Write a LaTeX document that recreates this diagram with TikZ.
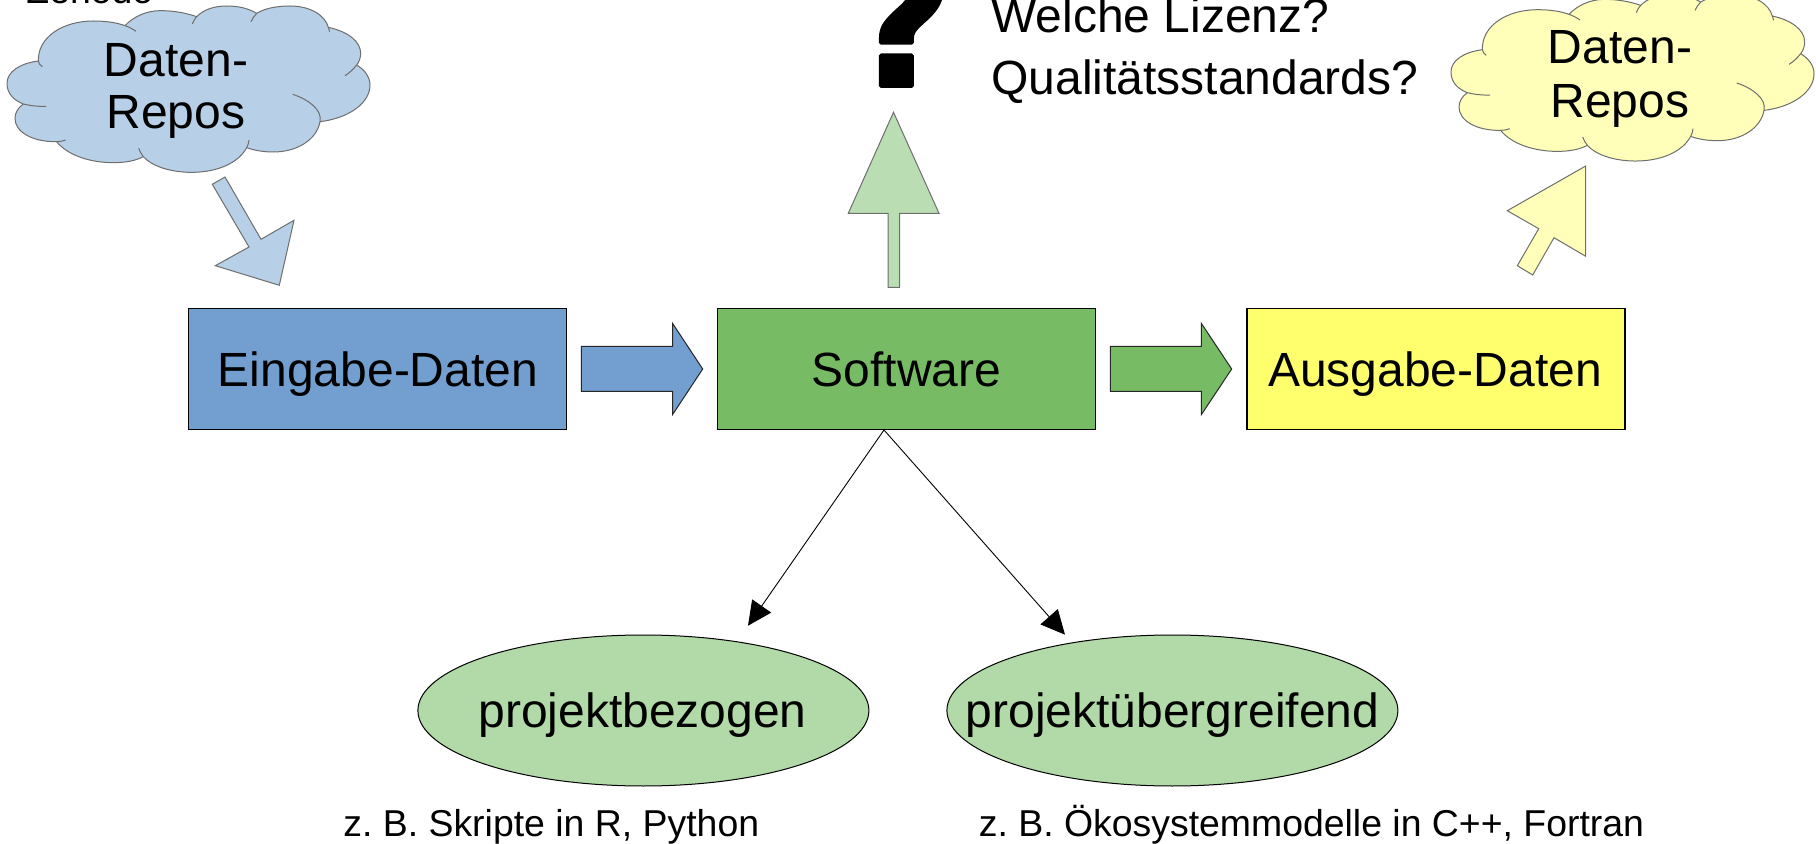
\documentclass[tikz,border=0pt]{standalone}
\usepackage{fontspec}
\setmainfont{Liberation Sans}
\newfontfamily\qfont{DejaVu Sans}[BoldFeatures={FakeBold=2.2}]
\usetikzlibrary{arrows.meta,shapes.geometric}
\definecolor{boxblue}{HTML}{729FCF}
\definecolor{boxgreen}{HTML}{77BC65}
\definecolor{boxyellow}{HTML}{FFFF6D}
\definecolor{cloudblue}{HTML}{B7CFE7}
\definecolor{cloudyellow}{HTML}{FFFFB9}
\definecolor{palegreen}{HTML}{BBDDB3}
\definecolor{ellgreen}{HTML}{B2D9A8}
\definecolor{softedge}{HTML}{6E6E6E}
\tikzset{
  bigtext/.style={font=\fontsize{24pt}{26.2pt}\selectfont},
  smalltext/.style={font=\fontsize{18.7pt}{22pt}\selectfont\frenchspacing,inner sep=0pt},
  labeltext/.style={bigtext,inner sep=0pt,anchor=base},
  databox/.style={draw=black,line width=0.7pt},
  blockarrow/.style={draw=black!85,line width=0.5pt},
  softshape/.style={draw=softedge,line width=0.5pt},
  thinarrow/.style={draw=black,line width=0.45pt,-{Triangle[length=12pt,width=11.5pt]}},
  oval/.style={draw=black,line width=0.5pt,fill=ellgreen,ellipse,inner sep=0pt,minimum width=225.5pt,minimum height=75.5pt}
}
\newcommand{\cloudoutline}[2]{%
\begin{scope}[shift={(#1)},x=0.1666667pt,y=-0.1666667pt]
\path[softshape,fill=#2,line join=round]
 (70,312) .. controls (40,300) and (21,280) .. (21,250) .. controls (21,215) and (60,190) .. (115,183)
 .. controls (113,110) and (190,63) .. (280,63) .. controls (320,63) and (350,68) .. (375,77)
 .. controls (400,50) and (440,32) .. (480,32) .. controls (520,32) and (555,38) .. (590,50)
 .. controls (610,30) and (640,18) .. (680,18) .. controls (715,18) and (745,25) .. (770,40)
 .. controls (795,25) and (830,18) .. (870,18) .. controls (930,18) and (975,45) .. (985,82)
 .. controls (1045,95) and (1082,125) .. (1082,160) .. controls (1082,172) and (1078,185) .. (1070,195)
 .. controls (1095,210) and (1110,232) .. (1110,255) .. controls (1110,310) and (1045,355) .. (960,365)
 .. controls (950,420) and (890,456) .. (820,456) .. controls (790,456) and (762,451) .. (740,443)
 .. controls (715,490) and (650,517) .. (575,517) .. controls (510,517) and (455,498) .. (430,470)
 .. controls (405,483) and (375,488) .. (340,488) .. controls (265,488) and (200,463) .. (170,425)
 .. controls (95,426) and (45,395) .. (45,355) .. controls (45,338) and (55,322) .. (70,312) -- cycle;
\draw[softshape] (70,312) .. controls (90,317) and (115,320) .. (138,319);
\draw[softshape] (115,183) .. controls (116,190) and (120,196) .. (127,200);
\draw[softshape] (375,77) .. controls (387,81) and (398,87) .. (408,94);
\draw[softshape] (590,50) .. controls (584,56) and (580,64) .. (577,72);
\draw[softshape] (770,40) .. controls (763,47) and (757,56) .. (753,65);
\draw[softshape] (985,82) .. controls (987,86) and (988,90) .. (989,95);
\draw[softshape] (1070,195) .. controls (1060,208) and (1048,219) .. (1035,227);
\draw[softshape] (960,365) .. controls (968,330) and (925,298) .. (878,283);
\draw[softshape] (740,443) .. controls (744,436) and (746,428) .. (747,420);
\draw[softshape] (430,470) .. controls (424,462) and (419,454) .. (416,445);
\draw[softshape] (170,425) .. controls (180,425) and (190,423) .. (197,420);
\end{scope}}
\begin{document}
\begin{tikzpicture}[x=0.5pt,y=-0.5pt]
\clip (0,0) rectangle (1816,844);
% boxes
\path[databox,fill=boxblue] (188.4,308.3) rectangle (566.5,429.3);
\path[databox,fill=boxgreen] (717.3,308.3) rectangle (1095.5,429.3);
\path[databox,fill=boxyellow] (1246.9,308.3) rectangle (1625,429.3);
\node[labeltext] (eingabe) at (378,387) {Eingabe-Daten};
\node[labeltext] (software) at (906.5,387) {Software};
\node[labeltext] (ausgabe) at (1435,387) {Ausgabe-Daten};
% block arrows
\path[blockarrow,fill=boxblue] (581.4,346.3) -- (672.5,346.3) -- (672.5,323.3) -- (702.7,369) -- (672.5,414.7) -- (672.5,391.3) -- (581.4,391.3) -- cycle;
\path[blockarrow,fill=boxgreen] (1110.3,346.3) -- (1201.3,346.3) -- (1201.3,323.3) -- (1231.7,369) -- (1201.3,414.7) -- (1201.3,391.3) -- (1110.3,391.3) -- cycle;
% clouds
\cloudoutline{0,0}{cloudblue}
\cloudoutline{1444,-11.3}{cloudyellow}
\node[labeltext] (datenA) at (176,76.5) {Daten-};
\node[labeltext] (reposA) at (176,129) {Repos};
\node[labeltext] (datenB) at (1620,64) {Daten-};
\node[labeltext] (reposB) at (1620,117.5) {Repos};
\node[smalltext,anchor=base west] (zenodo) at (26,4) {Zenodo};
% pale arrows
\path[softshape,fill=cloudblue] (212.3,184.3) -- (225,177) -- (261,239.3) -- (294,220.3) -- (279.3,285.3) -- (215.3,265.7) -- (249,247) -- cycle;
\path[softshape,fill=palegreen] (888,287.3) -- (888,213.3) -- (848.3,213.3) -- (893.5,112.3) -- (939,213.3) -- (899.6,213.3) -- (899.6,287.3) -- cycle;
\path[softshape,fill=cloudyellow] (1517.3,265.7) -- (1538.7,228.7) -- (1507.3,210.7) -- (1585.7,166) -- (1585.7,256.3) -- (1554,237.7) -- (1532.7,275) -- cycle;
% question text
\begin{scope}[line join=round]
\node[font=\qfont\bfseries\fontsize{88pt}{88pt}\selectfont,inner sep=0pt,anchor=base] (quest) at (902,86) {?};
\end{scope}
\node[labeltext,anchor=base west] (lizenz) at (991,33) {Welche Lizenz?};
\node[labeltext,anchor=base west] (quali) at (991,95) {Qualitätsstandards?};
% ellipses
\node[oval] (proj) at (643.4,710.5) {};
\node[oval] (ueber) at (1172.4,710.5) {};
\node[labeltext] (projt) at (642.5,727) {projektbezogen};
\node[labeltext] (uebert) at (1172.5,727) {projektübergreifend};
% thin arrows
\coordinate (fork) at (884,430);
\coordinate (tipA) at (748,625.7);
\coordinate (tipB) at (1065,634.7);
\draw[thinarrow] (fork) -- (tipA);
\draw[thinarrow] (fork) -- (tipB);
% captions
\node[smalltext,anchor=base west] (capA) at (343,836) {z. B. Skripte in R, Python};
\node[smalltext,anchor=base west] (capB) at (978.5,836) {z. B. Ökosystemmodelle in C++, Fortran};
\end{tikzpicture}
\end{document}
